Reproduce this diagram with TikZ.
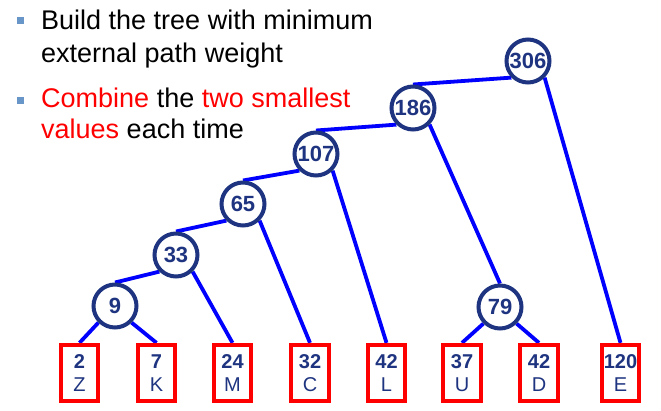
\documentclass[tikz,border=0pt]{standalone}
\usepackage{fontspec}
\setmainfont{Liberation Sans}
\usepackage{xcolor}
\usetikzlibrary{positioning}
\definecolor{navyc}{RGB}{30,52,128}
\definecolor{bulletc}{RGB}{105,150,200}
\definecolor{edgec}{RGB}{0,0,255}
\definecolor{redc}{RGB}{255,0,0}
\pgfdeclarelayer{background}
\pgfsetlayers{background,main}
\begin{document}
\begin{tikzpicture}[x=1pt,y=-1pt,
    sum/.style={draw=navyc, line width=4pt, circle, fill=white, minimum size=43pt, inner sep=0pt,
                text=navyc, font=\fontsize{22}{22}\selectfont\bfseries},
    leaf/.style={draw=redc, line width=3.8pt, rectangle, minimum width=37.5pt, minimum height=56.5pt,
                 inner sep=0pt, align=center, text=navyc, font=\fontsize{20}{23}\selectfont},
    edge/.style={draw=edgec, line width=3.8pt},
    bul/.style={fill=bulletc, minimum size=7.5pt, inner sep=0pt},
    txt/.style={anchor=base west, inner sep=0pt, font=\fontsize{27}{30}\selectfont}]
        \useasboundingbox (0,0) rectangle (661,411);

        % Bullets
        \node[bul] (b1) at (20.5,20.5) {};
        \node[txt] (t1) at (41,30) {Build the tree with minimum};
        \node[txt] (t2) at (41,63) {external path weight};
        \node[bul] (b2) at (20.5,100.5) {};
        \node[txt] (t3) at (41,108) {\textcolor{redc}{Combine} the \textcolor{redc}{two smallest}};
        \node[txt] (t4) at (41,139) {\textcolor{redc}{values} each time};

        % Leaves
        \node[leaf] (z) at (79.5,373) {\textbf{2}\\Z};
        \node[leaf] (k) at (156.5,373) {\textbf{7}\\K};
        \node[leaf] (m) at (232.5,373) {\textbf{24}\\M};
        \node[leaf] (c) at (310,373) {\textbf{32}\\C};
        \node[leaf] (l) at (386.5,373) {\textbf{42}\\L};
        \node[leaf] (u) at (462,373) {\textbf{37}\\U};
        \node[leaf] (d) at (539,373) {\textbf{42}\\D};
        \node[leaf] (e) at (620.5,373) {\textbf{120}\\E};

        % Internal nodes
        \node[sum] (n306) at (528,61) {306};
        \node[sum] (n186) at (413,108) {186};
        \node[sum] (n107) at (316,154) {107};
        \node[sum] (n65) at (243,204) {65};
        \node[sum] (n33) at (176,255) {33};
        \node[sum] (n9) at (115,306) {9};
        \node[sum] (n79) at (500,307) {79};

        % Edges
        \begin{pgfonlayer}{background}
        \draw[edge] (n306.south west) -- (n186.north);
        \draw[edge] (n306.south east) -- (e.north);
        \draw[edge] (n186.south west) -- (n107.north);
        \draw[edge] (n186.south east) -- (n79.north);
        \draw[edge] (n107.south west) -- (n65.north);
        \draw[edge] (n107.south east) -- (l.north);
        \draw[edge] (n65.south west) -- (n33.north);
        \draw[edge] (n65.south east) -- (c.north);
        \draw[edge] (n33.south west) -- (n9.north);
        \draw[edge] (n33.south east) -- (m.north);
        \draw[edge] (n9.south west) -- (z.north);
        \draw[edge] (n9.south east) -- (k.north);
        \draw[edge] (n79.south west) -- (u.north);
        \draw[edge] (n79.south east) -- (d.north);
        \end{pgfonlayer}
\end{tikzpicture}
\end{document}
